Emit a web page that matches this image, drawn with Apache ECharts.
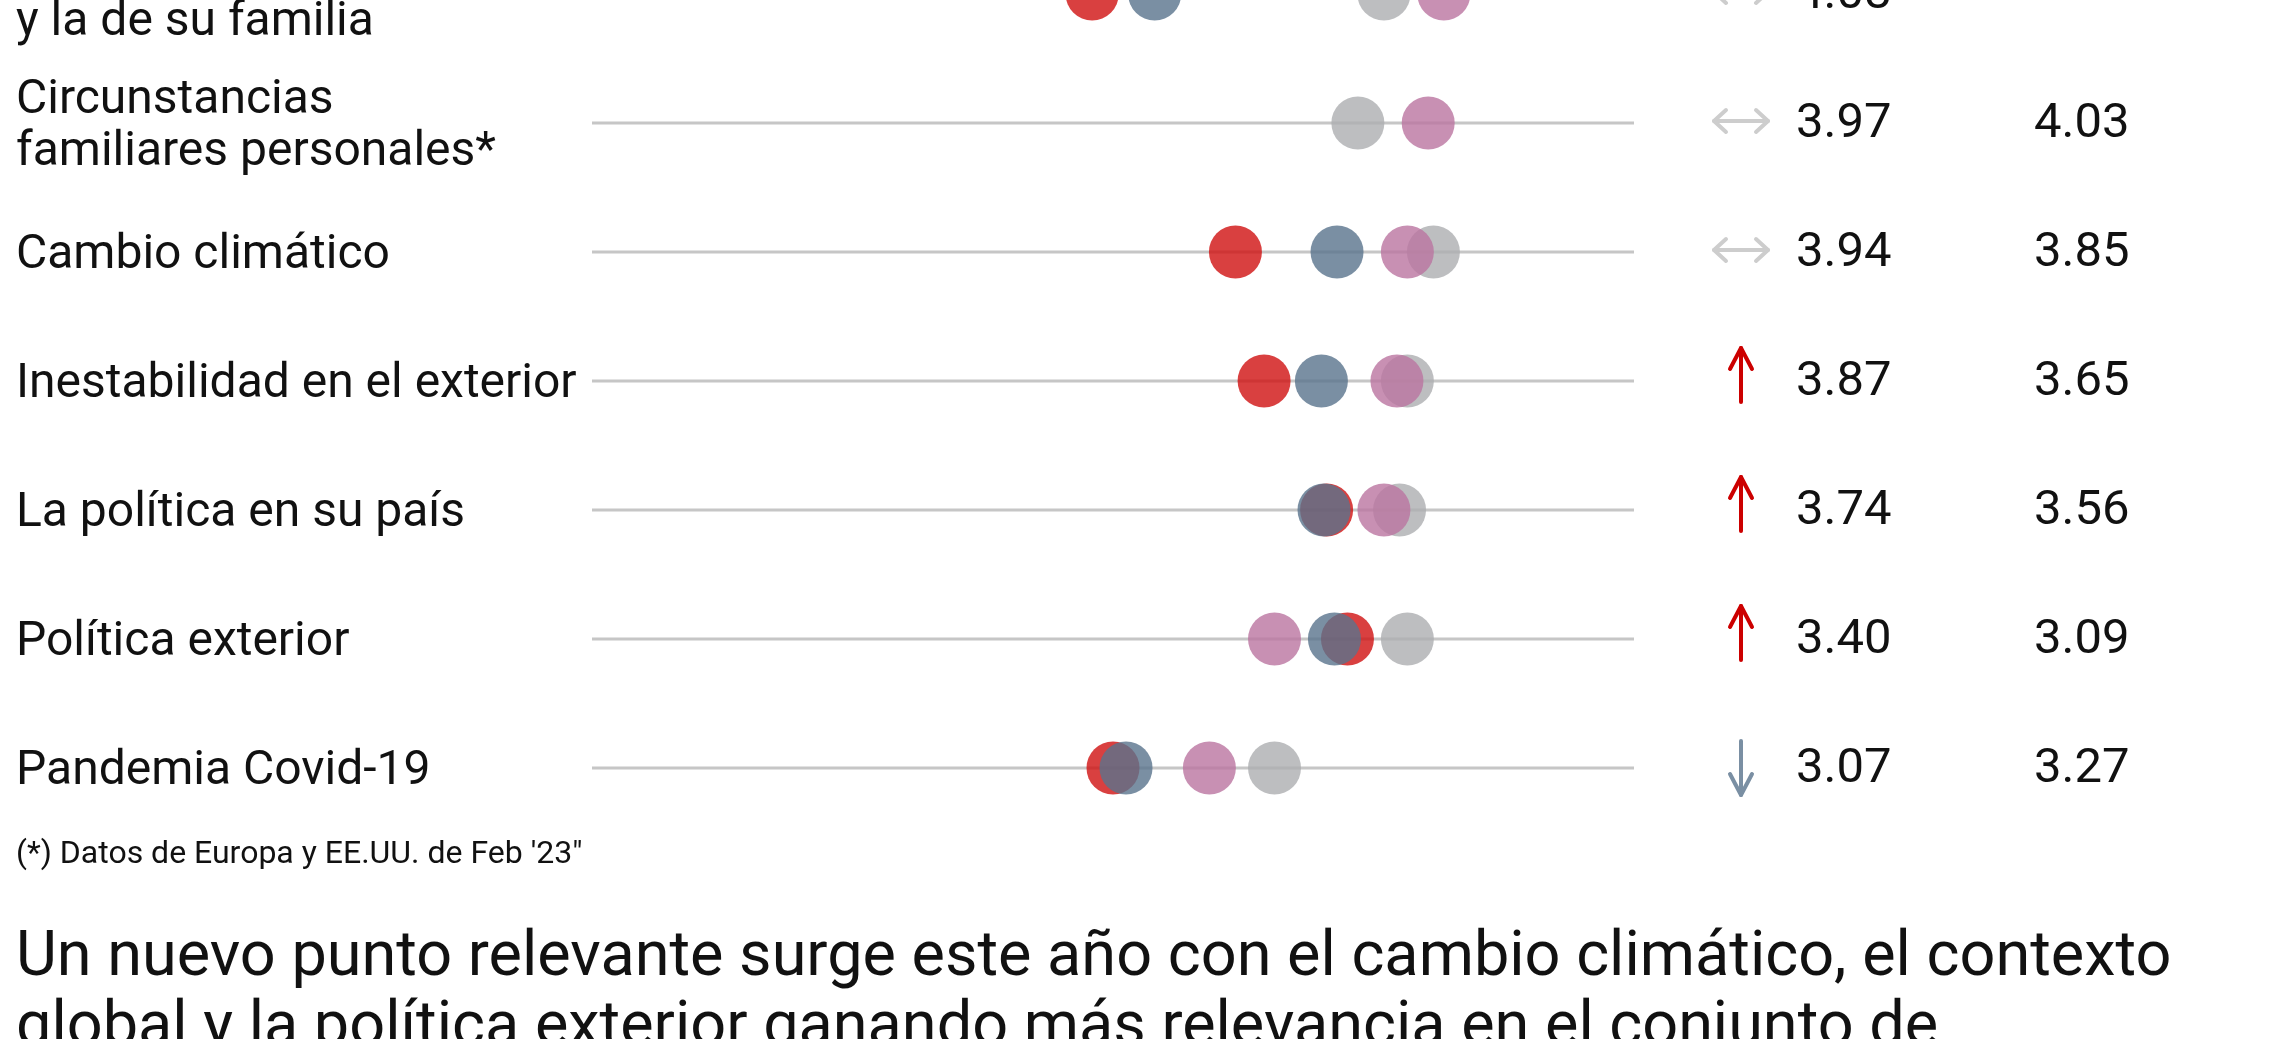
<!DOCTYPE html>
<html>
<head>
<meta charset="utf-8">
<script src="https://cdn.jsdelivr.net/npm/echarts@6.0.0/dist/echarts.min.js"></script>
<style>
  html, body { margin: 0; padding: 0; background: #fff; }
  #chart { width: 2284px; height: 1039px; }
</style>
</head>
<body>
<div id="chart"></div>
<script>
// filas (de arriba abajo)
const rows = [
  'y la de su familia',
  'Circunstancias\nfamiliares personales*',
  'Cambio climático',
  'Inestabilidad en el exterior',
  'La política en su país',
  'Política exterior',
  'Pandemia Covid-19'
]
// posición de cada punto en la escala 1-5
const redVals = [2.92, null, 3.47, 3.58, 3.82, 3.90, 3.00]
const blueVals = [3.16, null, 3.86, 3.80, 3.81, 3.85, 3.05]
const pinkVals = [4.27, 4.21, 4.13, 4.09, 4.04, 3.62, 3.37]
const grayVals = [4.04, 3.94, 4.23, 4.13, 4.10, 4.13, 3.62]
// tabla de la derecha
const trend = ['both', 'both', 'both', 'up', 'up', 'up', 'down']
const score2023 = [4.08, 3.97, 3.94, 3.87, 3.74, 3.40, 3.07]
const score2022 = [null, 4.03, 3.85, 3.65, 3.56, 3.09, 3.27]

const FONT = 'Roboto, "Liberation Sans", sans-serif'
const INK = '#111111'

const chart = echarts.init(document.getElementById('chart'))

function dots (name, vals, color) {
  return {
    name: name,
    type: 'scatter',
    z: 3,
    clip: false,
    symbol: 'circle',
    symbolSize: 53,
    silent: true,
    itemStyle: { color: color, opacity: 0.8 },
    data: vals.map((v, i) => (v == null ? null : [v, i]))
  }
}

// línea de fondo + flecha + valores de cada fila
function renderRow (params, api) {
  const i = api.value(1)
  const start = api.coord([1, i])
  const end = api.coord([5, i])
  const y = start[1]
  const children = [{
    type: 'line',
    shape: { x1: start[0], y1: y, x2: end[0], y2: y },
    style: { stroke: '#c6c6c6', lineWidth: 3 }
  }]
  const ax = end[0] + 107
  const arrowStyle = { fill: null, lineWidth: 4, lineCap: 'round', lineJoin: 'round' }
  const t = trend[i]
  if (t === 'up') {
    const cy = y - 6
    children.push({ type: 'polyline', shape: { points: [[ax, cy - 27], [ax, cy + 27]] }, style: Object.assign({ stroke: '#cc0000' }, arrowStyle) })
    children.push({ type: 'polyline', shape: { points: [[ax - 11, cy - 6], [ax, cy - 27], [ax + 11, cy - 6]] }, style: Object.assign({ stroke: '#cc0000' }, arrowStyle) })
  } else if (t === 'down') {
    const cy = y
    children.push({ type: 'polyline', shape: { points: [[ax, cy - 27], [ax, cy + 27]] }, style: Object.assign({ stroke: '#7a8fa3' }, arrowStyle) })
    children.push({ type: 'polyline', shape: { points: [[ax - 11, cy + 6], [ax, cy + 27], [ax + 11, cy + 6]] }, style: Object.assign({ stroke: '#7a8fa3' }, arrowStyle) })
  } else {
    const cy = y - 2
    const st = Object.assign({ stroke: '#cdcdcd' }, arrowStyle)
    children.push({ type: 'polyline', shape: { points: [[ax - 27, cy], [ax + 27, cy]] }, style: st })
    children.push({ type: 'polyline', shape: { points: [[ax - 15, cy - 11], [ax - 27, cy], [ax - 15, cy + 11]] }, style: st })
    children.push({ type: 'polyline', shape: { points: [[ax + 15, cy - 11], [ax + 27, cy], [ax + 15, cy + 11]] }, style: st })
  }
  if (score2023[i] != null) {
    children.push({
      type: 'text',
      style: { text: score2023[i].toFixed(2), x: end[0] + 162, y: y + 2, fill: INK, fontSize: 49, fontFamily: FONT, align: 'left', verticalAlign: 'middle' }
    })
  }
  if (score2022[i] != null) {
    children.push({
      type: 'text',
      style: { text: score2022[i].toFixed(2), x: end[0] + 400, y: y + 2, fill: INK, fontSize: 49, fontFamily: FONT, align: 'left', verticalAlign: 'middle' }
    })
  }
  return { type: 'group', children: children }
}

const option = {
  animation: false,
  backgroundColor: '#ffffff',
  textStyle: { fontFamily: FONT },
  title: [
    {
      text: '(*) Datos de Europa y EE.UU. de Feb \'23"',
      left: 11,
      top: 834,
      textStyle: { fontSize: 32, fontWeight: 'normal', color: INK, fontFamily: FONT }
    },
    {
      text: 'Un nuevo punto relevante surge este año con el cambio climático, el contexto\nglobal y la política exterior ganando más relevancia en el conjunto de',
      left: 11,
      top: 919,
      textStyle: { fontSize: 63, lineHeight: 70, fontWeight: 'normal', color: INK, fontFamily: FONT }
    }
  ],
  grid: { left: 592, width: 1042, top: -6, bottom: 271, outerBoundsMode: 'none', containLabel: false },
  xAxis: {
    type: 'value',
    min: 1,
    max: 5,
    show: false
  },
  yAxis: {
    type: 'category',
    inverse: true,
    boundaryGap: false,
    data: rows,
    axisLine: { show: false },
    axisTick: { show: false },
    splitLine: { show: false },
    axisLabel: {
      align: 'left',
      margin: 576,
      fontSize: 48,
      lineHeight: 52,
      color: INK,
      fontFamily: FONT,
      padding: [8, 0, 0, 0],
      formatter: (v, i) => (i === 0 ? '{lo|' + v + '}' : v),
      rich: {
        lo: { fontSize: 48, lineHeight: 52, color: INK, fontFamily: FONT, padding: [50, 0, 0, 0] }
      }
    }
  },
  series: [
    {
      type: 'custom',
      z: 1,
      silent: true,
      clip: false,
      renderItem: renderRow,
      data: rows.map((r, i) => [5, i])
    },
    dots('gris', grayVals, '#acaeb0'),
    dots('rojo', redVals, '#d01010'),
    dots('azul', blueVals, '#59738c'),
    dots('rosa', pinkVals, '#ba74a0')
  ]
}

chart.setOption(option)
</script>
</body>
</html>
